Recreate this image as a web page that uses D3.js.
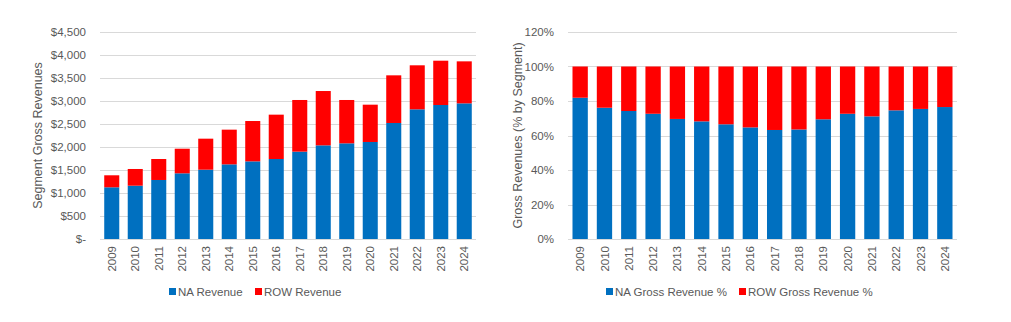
<!DOCTYPE html>
<html>
<head>
<meta charset="utf-8">
<script src="https://cdn.jsdelivr.net/npm/d3@7"></script>
<style>
  body { margin: 0; background: #fff; }
  svg text { font-family: "Liberation Sans", Arial, sans-serif; fill: #595959; }
</style>
</head>
<body>
<svg id="chart" width="1011" height="322"></svg>
<script>
// data
const years = ['2009', '2010', '2011', '2012', '2013', '2014', '2015', '2016',
  '2017', '2018', '2019', '2020', '2021', '2022', '2023', '2024']
const naRevenue = [1124, 1159, 1283, 1428, 1507, 1623, 1688, 1739, 1899, 2036, 2080, 2109, 2522, 2819, 2913, 2949]
const rowRevenue = [261, 363, 456, 535, 674, 754, 877, 964, 1123, 1181, 942, 811, 1036, 957, 963, 913]
const naPct = [0.819, 0.761, 0.742, 0.726, 0.696, 0.682, 0.665, 0.647, 0.632, 0.635, 0.694, 0.726, 0.711, 0.746, 0.754, 0.765]
const revenueTicks = [0, 500, 1000, 1500, 2000, 2500, 3000, 3500, 4000, 4500]
const pctTicks = [0, 0.2, 0.4, 0.6, 0.8, 1.0, 1.2]

const BLUE = '#0070C0', RED = '#FF0000', GRID = '#d9d9d9'

let svg = d3.select('#chart')

function drawPanel (opt) {
  let g = svg.append('g')
  let x = d3.scaleBand().domain(years).range([opt.x0, opt.x1])
    .paddingInner(opt.pad).paddingOuter(opt.pad / 2)
  let y = d3.scaleLinear().domain([0, opt.max]).range([239, 32])

  // gridlines
  g.selectAll('line.grid').data(opt.ticks).enter()
    .append('line')
    .attr('class', 'grid')
    .attr('x1', opt.x0).attr('x2', opt.x1)
    .attr('y1', d => Math.round(y(d)) + 0.5).attr('y2', d => Math.round(y(d)) + 0.5)
    .style('stroke', GRID)
    .style('stroke-width', 1)

  // y tick labels
  g.selectAll('text.ytick').data(opt.ticks).enter()
    .append('text')
    .attr('class', 'ytick')
    .attr('x', opt.x0 - 14)
    .attr('y', d => y(d))
    .attr('dy', '0.35em')
    .attr('text-anchor', 'end')
    .style('font-size', '11.5px')
    .text(opt.fmt)

  // stacked bars
  let stack = opt.series.map(s => s.values)
  years.forEach((yr, i) => {
    let base = 0
    opt.series.forEach(s => {
      let v = s.values[i]
      g.append('rect')
        .attr('x', x(yr))
        .attr('width', x.bandwidth())
        .attr('y', y(base + v))
        .attr('height', y(base) - y(base + v))
        .style('fill', s.color)
      base += v
    })
  })

  // x tick labels (rotated)
  g.selectAll('text.xtick').data(years).enter()
    .append('text')
    .attr('class', 'xtick')
    .attr('transform', d => `translate(${x(d) + x.bandwidth() / 2},246) rotate(-90)`)
    .attr('dy', '0.35em')
    .attr('text-anchor', 'end')
    .style('font-size', '11.5px')
    .text(d => d)

  // axis title
  g.append('text')
    .attr('transform', `translate(${opt.titleX},135.5) rotate(-90)`)
    .attr('dy', '0.35em')
    .attr('text-anchor', 'middle')
    .style('font-size', '12.5px')
    .text(opt.title)

  // legend
  opt.series.forEach((s, i) => {
    let lx = opt.legendX[i]
    g.append('rect')
      .attr('x', lx).attr('y', 288)
      .attr('width', 7).attr('height', 7)
      .style('fill', s.color)
    g.append('text')
      .attr('x', lx + 9).attr('y', 292)
      .attr('dy', '0.35em')
      .style('font-size', '11.5px')
      .text(s.name)
  })
}

drawPanel({
  x0: 100, x1: 476, pad: 0.36, max: 4500,
  ticks: revenueTicks,
  fmt: d => d === 0 ? '$-' : '$' + d3.format(',')(d),
  series: [
    { name: 'NA Revenue', color: BLUE, values: naRevenue },
    { name: 'ROW Revenue', color: RED, values: rowRevenue }
  ],
  title: 'Segment Gross Revenues', titleX: 38,
  legendX: [169, 255]
})

drawPanel({
  x0: 568, x1: 957, pad: 0.37, max: 1.2,
  ticks: pctTicks,
  fmt: d3.format('.0%'),
  series: [
    { name: 'NA Gross Revenue %', color: BLUE, values: naPct },
    { name: 'ROW Gross Revenue %', color: RED, values: naPct.map(v => 1 - v) }
  ],
  title: 'Gross Revenues (% by Segment)', titleX: 518,
  legendX: [606, 739]
})
</script>
</body>
</html>
